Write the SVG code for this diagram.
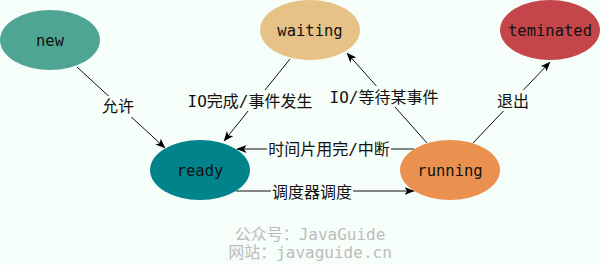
<svg xmlns="http://www.w3.org/2000/svg" width="601" height="265" viewBox="0 0 601 265">
<defs>
<marker id="arr" viewBox="0 0 10 8" refX="9.5" refY="4" markerWidth="10" markerHeight="8" markerUnits="userSpaceOnUse" orient="auto">
<path d="M0,0 L10,4 L0,8 L2.5,4 z" fill="#000"/>
</marker>
<style>
.node text{font-family:"DejaVu Sans Mono","Noto Sans CJK SC",monospace;font-size:15.5px;fill:#111;text-anchor:middle}
.edge line{stroke:#111;stroke-width:1}
.lbl{font-family:"DejaVu Sans Mono","Noto Sans CJK SC",monospace;font-size:16px;fill:#111;text-anchor:middle}
.bg{fill:#f6fef9}
.wm{font-family:"DejaVu Sans Mono","Noto Sans CJK SC",monospace;font-size:16px;fill:#bcbcbc;text-anchor:middle}
</style>
</defs>
<rect width="601" height="265" fill="#f6fef9"/>
<g id="connectors" class="edge">
<line x1="77" y1="67" x2="165" y2="148" marker-end="url(#arr)"/>
<rect class="bg" x="101" y="96" width="34" height="21"/>
<text class="lbl" x="118" y="112">允许</text>
<line x1="290" y1="59" x2="224" y2="141" marker-end="url(#arr)"/>
<rect class="bg" x="187" y="90" width="127" height="21"/>
<text class="lbl" x="250" y="107">IO完成/事件发生</text>
<line x1="427" y1="143" x2="347" y2="53" marker-end="url(#arr)"/>
<rect class="bg" x="329" y="86" width="110" height="21"/>
<text class="lbl" x="384" y="103">IO/等待某事件</text>
<line x1="473" y1="143" x2="550" y2="62" marker-end="url(#arr)"/>
<rect class="bg" x="496" y="90" width="34" height="21"/>
<text class="lbl" x="513" y="107">退出</text>
<line x1="414" y1="149" x2="237" y2="149" marker-end="url(#arr)"/>
<rect class="bg" x="267" y="138" width="124" height="21"/>
<text class="lbl" x="329" y="155">时间片用完/中断</text>
<line x1="236" y1="191" x2="414" y2="191" marker-end="url(#arr)"/>
<rect class="bg" x="271" y="181" width="82" height="21"/>
<text class="lbl" x="312" y="198">调度器调度</text>
</g>
<g id="node-new" class="node">
<ellipse cx="50" cy="40" rx="50" ry="30" fill="#4fa593"/>
<text x="50" y="46">new</text>
</g>
<g id="node-waiting" class="node">
<ellipse cx="310" cy="30" rx="50" ry="30" fill="#e6c287"/>
<text x="310" y="36">waiting</text>
</g>
<g id="node-teminated" class="node">
<ellipse cx="550" cy="30" rx="50" ry="30" fill="#c4464a"/>
<text x="550" y="36">teminated</text>
</g>
<g id="node-ready" class="node">
<ellipse cx="200" cy="170" rx="50" ry="30" fill="#00838a"/>
<text x="200" y="176">ready</text>
</g>
<g id="node-running" class="node">
<ellipse cx="450" cy="170" rx="50" ry="30" fill="#ea9150"/>
<text x="450" y="176">running</text>
</g>
<g id="watermark">
<text class="wm" x="310" y="240">公众号：JavaGuide</text>
<text class="wm" x="310" y="258">网站：javaguide.cn</text>
</g>
</svg>
